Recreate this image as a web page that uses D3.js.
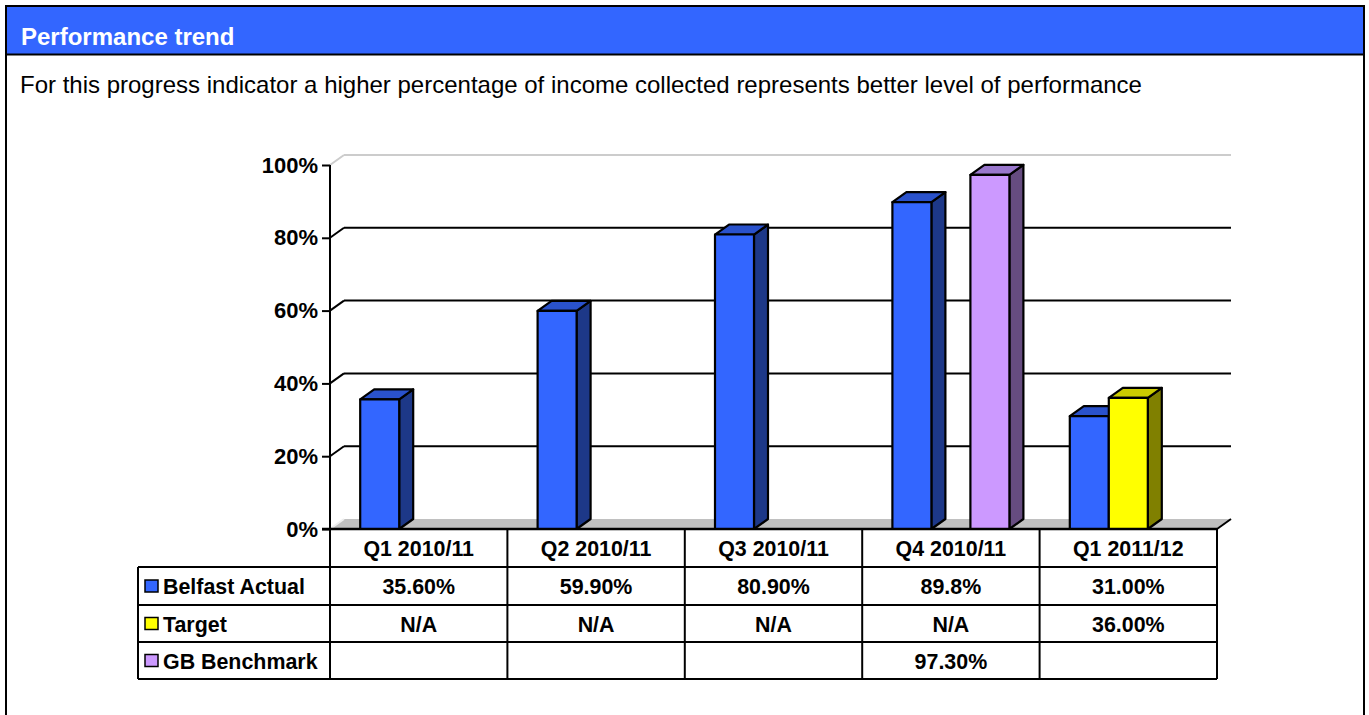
<!DOCTYPE html>
<html><head><meta charset="utf-8">
<script src="https://cdn.jsdelivr.net/npm/d3@7"></script>
<style>body{margin:0;background:#fff;} svg{display:block;font-family:"Liberation Sans",Arial,sans-serif;}</style>
</head><body>
<svg id="c" width="1369" height="715"></svg>
<script>
const categories = ["Q1 2010/11","Q2 2010/11","Q3 2010/11","Q4 2010/11","Q1 2011/12"];
const seriesNames = ["Belfast Actual","Target","GB Benchmark"];
const belfastActual = [35.6, 59.9, 80.9, 89.8, 31.0];
const target = [null, null, null, null, 36.0];
const gbBenchmark = [null, null, null, 97.3, null];
const belfastLabels = ["35.60%","59.90%","80.90%","89.8%","31.00%"];
const targetLabels = ["N/A","N/A","N/A","N/A","36.00%"];
const gbLabels = ["","","","97.30%",""];
const yTicks = [0,20,40,60,80,100];
const title = "Performance trend";
const subtitle = "For this progress indicator a higher percentage of income collected represents better level of performance";

const seriesValues = [belfastActual, target, gbBenchmark];
const seriesLabels = [belfastLabels, targetLabels, gbLabels];
const colors = {
  "Belfast Actual": {front:"#3366FF", top:"#2A52CC", side:"#1D3888"},
  "Target": {front:"#FFFF00", top:"#CCCC00", side:"#808000"},
  "GB Benchmark": {front:"#CC99FF", top:"#9977CC", side:"#664C80"}
};

const svg = d3.select("#c");
// frame
svg.append("rect").attr("x",6).attr("y",6).attr("width",1358).attr("height",740)
  .attr("fill","#fff").attr("stroke","#000").attr("stroke-width",2);
svg.append("rect").attr("x",7).attr("y",7).attr("width",1356).attr("height",47).attr("fill","#3366FF");
svg.append("line").attr("x1",6).attr("x2",1364).attr("y1",54.5).attr("y2",54.5).attr("stroke","#000").attr("stroke-width",2);
svg.append("text").attr("x",21).attr("y",45).attr("fill","#fff").attr("font-weight","bold")
  .attr("font-size",24).text(title);
svg.append("text").attr("x",20).attr("y",93).attr("fill","#000")
  .attr("font-size",24).text(subtitle);

const x0 = 330, x1 = 1217, yTop = 165, yBot = 529;
const dx = 14, dy = 10;
const y = d3.scaleLinear().domain([0,100]).range([yBot, yTop]);
const x = d3.scaleBand().domain(categories).range([x0, x1]);
const groupW = 117;
const xs = d3.scaleBand().domain(seriesNames).range([0, groupW]);

// floor
svg.append("polygon").attr("points",[[x0,yBot],[x0+dx,yBot-dy],[x1+dx,yBot-dy],[x1,yBot]].join(" "))
  .attr("fill","#C0C0C0");
svg.append("line").attr("x1",x0).attr("y1",yBot).attr("x2",x0+dx).attr("y2",yBot-dy).attr("stroke","#eee").attr("stroke-width",2);
svg.append("line").attr("x1",x1).attr("y1",yBot).attr("x2",x1+dx).attr("y2",yBot-dy).attr("stroke","#000").attr("stroke-width",2);

// gridlines
const gt = yTicks.filter(t=>t>0);
svg.append("g").selectAll("line.g").data(gt).join("line")
  .attr("x1",x0+dx).attr("x2",x1+dx).attr("y1",d=>y(d)-dy).attr("y2",d=>y(d)-dy)
  .attr("stroke",d=>d===100?"#ccc":"#000").attr("stroke-width",2);
svg.append("g").selectAll("line.d").data(gt).join("line")
  .attr("x1",x0).attr("x2",x0+dx).attr("y1",d=>y(d)).attr("y2",d=>y(d)-dy)
  .attr("stroke",d=>d===100?"#ccc":"#000").attr("stroke-width",2);

// y axis
const yAxis = d3.axisLeft(y).tickValues(yTicks).tickFormat(d=>d+"%").tickSize(8).tickPadding(4);
const ya = svg.append("g").attr("transform",`translate(${x0},0)`).call(yAxis);
ya.select(".domain").remove();
ya.selectAll(".tick line").attr("stroke","#000").attr("stroke-width",2);
ya.selectAll(".tick text").attr("font-size",22).attr("font-weight","bold").attr("fill","#000")
  .attr("font-family","Liberation Sans, Arial, sans-serif");

// bars
const bars = [];
categories.forEach((c,ci)=>{
  seriesNames.forEach((s,si)=>{
    const v = seriesValues[si][ci];
    if (v!=null) bars.push({c, s, v});
  });
});
const bg = svg.append("g");
bars.forEach(b=>{
  const bx = x(b.c) + (x.bandwidth()-groupW)/2 + xs(b.s);
  const bw = xs.bandwidth();
  const top = y(b.v), base = y(0);
  const col = colors[b.s];
  const g = bg.append("g").attr("stroke","#000").attr("stroke-width",2.2).attr("stroke-linejoin","round");
  g.append("polygon").attr("points",[[bx+bw,base],[bx+bw+dx,base-dy],[bx+bw+dx,top-dy],[bx+bw,top]].join(" ")).attr("fill",col.side);
  g.append("polygon").attr("points",[[bx,top],[bx+dx,top-dy],[bx+bw+dx,top-dy],[bx+bw,top]].join(" ")).attr("fill",col.top);
  g.append("rect").attr("x",bx).attr("y",top).attr("width",bw).attr("height",base-top).attr("fill",col.front);
});

// axis lines
svg.append("line").attr("x1",x0).attr("x2",x0).attr("y1",yTop).attr("y2",679).attr("stroke","#000").attr("stroke-width",2);
svg.append("line").attr("x1",x0-8).attr("x2",x1).attr("y1",yBot).attr("y2",yBot).attr("stroke","#000").attr("stroke-width",2.5);

// table
const tl = 138;
const rowY = [529, 567, 605, 642, 679];
const tg = svg.append("g").attr("stroke","#000").attr("stroke-width",2);
rowY.slice(1).forEach(ry=>tg.append("line").attr("x1",tl).attr("x2",x1).attr("y1",ry).attr("y2",ry));
categories.forEach(c=>tg.append("line").attr("x1",x(c)+x.bandwidth()).attr("x2",x(c)+x.bandwidth()).attr("y1",yBot).attr("y2",679));
tg.append("line").attr("x1",tl).attr("x2",tl).attr("y1",567).attr("y2",679);

const tx = svg.append("g").attr("font-weight","bold").attr("font-size",21.4).attr("fill","#000").attr("text-anchor","middle");
categories.forEach((c,ci)=>{
  tx.append("text").attr("x",x(c)+x.bandwidth()/2).attr("y",(rowY[0]+rowY[1])/2+8).text(c);
  seriesNames.forEach((s,si)=>{
    tx.append("text").attr("x",x(c)+x.bandwidth()/2).attr("y",(rowY[si+1]+rowY[si+2])/2+8).text(seriesLabels[si][ci]);
  });
});
seriesNames.forEach((s,si)=>{
  const cy = (rowY[si+1]+rowY[si+2])/2;
  svg.append("rect").attr("x",145).attr("y",cy-6).attr("width",13).attr("height",12)
    .attr("fill",colors[s].front).attr("stroke","#000").attr("stroke-width",1.5);
  svg.append("text").attr("x",163).attr("y",cy+8).attr("font-weight","bold").attr("font-size",21.4).text(s);
});
</script>
</body></html>
